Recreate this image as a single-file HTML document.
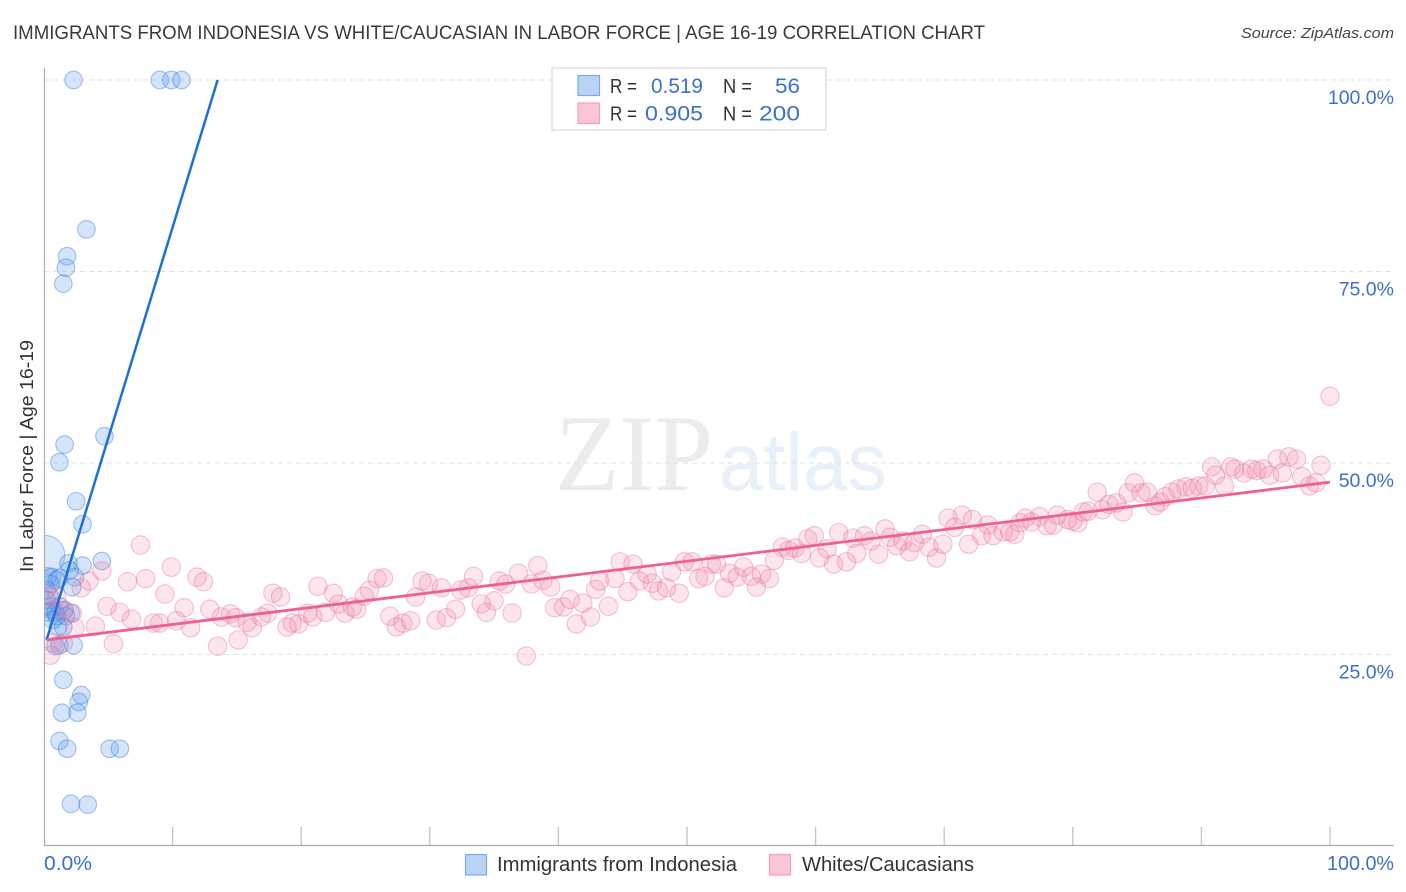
<!DOCTYPE html>
<html lang="en">
<head>
<meta charset="utf-8">
<title>Immigrants from Indonesia vs White/Caucasian in Labor Force | Age 16-19 Correlation Chart</title>
<style>
html,body{margin:0;padding:0;background:#fff;width:1406px;height:892px;overflow:hidden}
svg{display:block;font-family:"Liberation Sans",sans-serif}
</style>
</head>
<body>
<svg id="chart" width="1406" height="892" viewBox="0 0 1406 892" xmlns="http://www.w3.org/2000/svg">
  <defs>
    <clipPath id="plot-clip"><rect x="44" y="60" width="1350" height="786"/></clipPath>
  </defs>
  <text x="13" y="39" font-size="19" fill="#3a3a3a" textLength="972" lengthAdjust="spacingAndGlyphs">IMMIGRANTS FROM INDONESIA VS WHITE/CAUCASIAN IN LABOR FORCE | AGE 16-19 CORRELATION CHART</text>
  <text x="1241" y="38" font-size="15" font-style="italic" fill="#444" textLength="153" lengthAdjust="spacingAndGlyphs">Source: ZipAtlas.com</text>

  <g>
    <text x="555" y="490" font-family="'Liberation Serif',serif" font-size="109" fill="#ececec" textLength="158" lengthAdjust="spacingAndGlyphs">ZIP</text>
    <text x="719" y="490" font-size="82" fill="#e8f0fa" textLength="168" lengthAdjust="spacingAndGlyphs">atlas</text>
  </g>

  <g id="grid"></g>
  <g id="x-ticks"></g>
  <g id="blue-points" clip-path="url(#plot-clip)"></g>
  <g id="pink-points" clip-path="url(#plot-clip)"></g>
  <g id="trends" clip-path="url(#plot-clip)"></g>

  <line x1="44.5" y1="68" x2="44.5" y2="846" stroke="#adadad" stroke-width="1.2"/>
  <line x1="44" y1="845.5" x2="1394" y2="845.5" stroke="#adadad" stroke-width="1.2"/>
  <g id="y-labels"></g>
  <text x="44" y="870" font-size="20" fill="#3b6fd0" textLength="48" lengthAdjust="spacingAndGlyphs">0.0%</text>
  <text x="1327" y="870" font-size="20" fill="#3b6fd0" textLength="67" lengthAdjust="spacingAndGlyphs">100.0%</text>
  <text transform="translate(33,572) rotate(-90)" font-size="18.5" fill="#333" textLength="232" lengthAdjust="spacingAndGlyphs">In Labor Force | Age 16-19</text>

  <g>
    <rect x="552" y="68" width="274" height="62" fill="#fff" stroke="#d8d8d8" stroke-width="1.2"/>
    <rect x="578" y="75.500" width="21.500" height="20" fill="#b9d3f5" stroke="#7faae6" stroke-width="1.2"/>
    <rect x="578" y="103" width="21.500" height="20.500" fill="#f9c6d7" stroke="#f0a0bd" stroke-width="1.2"/>
    <text x="610" y="93" font-size="20" fill="#333" textLength="27" lengthAdjust="spacingAndGlyphs">R =</text>
    <text x="651" y="93" font-size="21" fill="#3b6fd0" textLength="52" lengthAdjust="spacingAndGlyphs">0.519</text>
    <text x="723" y="93" font-size="20" fill="#333" textLength="29" lengthAdjust="spacingAndGlyphs">N =</text>
    <text x="775" y="93" font-size="21" fill="#3b6fd0" textLength="25" lengthAdjust="spacingAndGlyphs">56</text>
    <text x="610" y="120.500" font-size="20" fill="#333" textLength="27" lengthAdjust="spacingAndGlyphs">R =</text>
    <text x="645" y="120.500" font-size="21" fill="#3b6fd0" textLength="58" lengthAdjust="spacingAndGlyphs">0.905</text>
    <text x="723" y="120.500" font-size="20" fill="#333" textLength="29" lengthAdjust="spacingAndGlyphs">N =</text>
    <text x="759" y="120.500" font-size="21" fill="#3b6fd0" textLength="41" lengthAdjust="spacingAndGlyphs">200</text>
  </g>

  <g>
    <rect x="465.500" y="854.500" width="21" height="20.500" fill="#b9d3f5" stroke="#7faae6" stroke-width="1.2"/>
    <text x="497" y="871" font-size="20" fill="#333" textLength="240" lengthAdjust="spacingAndGlyphs">Immigrants from Indonesia</text>
    <rect x="769.500" y="854.500" width="21" height="20.500" fill="#f9c6d7" stroke="#f0a0bd" stroke-width="1.2"/>
    <text x="802" y="871" font-size="20" fill="#333" textLength="172" lengthAdjust="spacingAndGlyphs">Whites/Caucasians</text>
  </g>
</svg>
<script>
const yGridValues = [25, 50, 75, 100];
const yTickLabels = ["25.0%", "50.0%", "75.0%", "100.0%"];
const xTickValues = [10, 20, 30, 40, 50, 60, 70, 80, 90, 100];

const blueX = [2.3,9.0,9.9,10.7,3.3,1.8,1.7,1.5,4.7,1.6,1.2,2.5,3.0,4.5,3.0,1.9,2.0,0.6,0.3,1.0,1.2,2.4,2.2,0.2,0.5,0.2,0.5,0.3,0.6,0.9,1.2,1.6,2.1,1.7,0.7,1.1,1.5,0.9,1.2,2.3,1.5,2.9,2.7,1.4,2.6,1.2,1.8,5.1,5.9,2.1,3.4,0.4,1.0];
const blueY = [100,100,100,100,80.5,77.0,75.5,73.4,53.5,52.4,50.1,45.0,42.0,37.2,36.6,36.9,36.0,35.1,35.2,34.7,35.0,35.1,33.8,33.4,34.2,32.1,31.3,30.5,30.8,30.5,31.3,30.8,30.4,30.0,29.5,28.6,28.6,26.1,26.2,26.2,21.7,19.7,18.8,17.4,17.4,13.7,12.7,12.7,12.7,5.5,5.4,32.7,30.0];
const blueLargeX = [0.1];
const blueLargeY = [38.0];

const pinkX = [0.5,0.7,1.5,0.5,1.0,1.5,2.2,2.4,2.9,3.5,4.0,4.5,4.9,5.4,5.9,6.5,6.8,7.5,7.9,8.5,9.0,9.4,9.9,10.3,10.9,11.4,11.9,12.4,12.9,13.5,13.8,14.5,14.9,15.1,15.8,16.2,16.9,17.4,17.8,18.4,18.9,19.3,19.8,20.5,20.9,21.3,21.9,22.5,22.9,23.4,24.0,24.3,24.9,25.3,25.9,26.4,26.9,27.4,27.9,28.5,28.9,29.4,29.9,30.9,30.5,31.3,32.0,32.4,33.0,33.4,34.0,34.4,35.0,35.4,35.9,36.4,36.9,37.5,37.9,38.4,38.8,39.4,39.7,40.4,40.9,41.4,41.9,42.5,42.9,43.2,43.9,44.4,44.8,45.4,45.8,46.3,46.9,47.3,47.8,48.4,48.8,49.4,49.8,50.4,50.9,51.4,51.9,52.3,52.9,53.3,53.9,54.4,55.0,55.4,55.8,56.4,56.8,57.4,57.9,58.4,58.9,59.4,59.9,60.3,60.9,61.4,61.8,62.4,62.9,63.2,63.8,64.3,64.9,65.4,65.8,66.3,66.8,67.3,67.7,68.3,68.8,69.4,69.9,70.3,70.8,71.4,71.9,72.2,72.9,73.4,73.8,74.6,75.1,75.5,75.9,76.3,76.8,77.4,78.0,78.5,78.8,79.6,80.0,80.4,80.8,81.2,81.9,82.3,82.8,83.4,83.9,84.3,84.8,85.3,85.8,86.4,86.8,87.2,87.7,88.2,88.8,89.3,89.8,90.3,90.8,91.1,91.8,92.3,92.6,93.3,93.9,94.3,94.8,95.3,95.9,96.3,96.8,97.4,97.8,98.4,98.9,99.3,100];
const pinkY = [24.9,26.5,26.5,32.5,32.5,30.7,30.4,28.5,33.7,34.6,28.7,35.9,31.3,26.4,30.5,34.5,29.6,39.3,34.9,29.1,29.1,32.9,36.4,29.4,31.1,28.5,35.1,34.5,30.9,26.1,29.9,30.3,29.8,26.9,29.2,28.5,29.9,30.4,33.0,32.5,28.6,29.1,29.0,30.4,29.9,33.9,30.5,33.0,31.6,30.4,31.2,30.9,32.6,33.4,34.9,35.0,30.0,28.6,29.1,29.4,32.5,34.6,34.3,33.7,29.5,29.8,30.9,33.4,33.7,35.2,31.6,30.5,32.0,34.6,34.2,30.4,35.6,24.8,34.2,36.6,34.7,33.8,31.1,31.2,32.2,29.0,31.7,29.9,33.5,34.6,31.3,34.9,37.1,33.2,36.8,34.6,35.5,34.3,33.3,33.7,35.8,33.0,37.1,37.1,34.9,35.2,36.8,36.8,33.7,35.6,35.1,36.4,35.2,33.8,35.5,34.9,37.3,39.0,38.6,38.9,38.2,40.1,40.5,37.6,38.8,36.8,40.9,37.1,40.2,38.2,40.5,39.8,38.1,41.4,40.3,39.2,39.8,38.4,39.6,40.7,39.0,37.6,39.4,42.8,41.6,43.2,39.4,42.6,40.5,41.9,40.5,41.0,41.0,40.7,42.2,42.8,42.3,43.0,41.8,41.9,43.2,42.6,42.4,42.2,43.6,43.7,46.2,43.9,44.6,44.8,43.6,46.1,47.4,46.1,46.2,44.4,44.9,45.6,46.2,46.6,46.9,46.7,47.0,47.0,49.5,48.4,47.0,49.5,49.2,48.7,49.2,49.0,49.2,48.4,50.5,48.7,50.8,50.5,48.2,47.0,47.4,49.7,58.7];

const blueTrendX = [0.2, 13.5];
const blueTrendY = [26.9, 100];
const pinkTrendX = [0.2, 100];
const pinkTrendY = [26.9, 47.5];

const NS = "http://www.w3.org/2000/svg";
function xScale(v) { return 44 + 12.86 * v; }
function yScale(v) { return 846 - 7.66 * v; }
function mk(tag, parent, props) {
  const el = document.createElementNS(NS, tag);
  for (const k in props) el.setAttribute(k, props[k]);
  parent.appendChild(el);
  return el;
}

const grid = document.getElementById("grid");
const yLabels = document.getElementById("y-labels");
yGridValues.forEach(function (v, i) {
  const g = mk("line", grid, {x1: 44, x2: 1394, y1: yScale(v), y2: yScale(v), stroke: "#e2e2e2", "stroke-width": 1, "stroke-dasharray": "5 4"});
  
  
  const t = mk("text", yLabels, {x: 1394, y: yScale(v) + 24, "text-anchor": "end", "font-size": 19.5, fill: "#3b6fd0"});
  t.textContent = yTickLabels[i];
  
  
});

const xTicks = document.getElementById("x-ticks");
xTickValues.forEach(function (v) {
  const l = mk("line", xTicks, {x1: xScale(v), x2: xScale(v), y1: 827, y2: 846, stroke: "#c4c4c4", "stroke-width": 1.3});
  
  
});

const blueGroup = document.getElementById("blue-points");
const bigBlue = mk("circle", blueGroup, {cx: xScale(blueLargeX[0]), cy: yScale(blueLargeY[0]), r: 19.5, fill: "rgba(90,155,235,0.24)", stroke: "rgba(60,125,220,0.42)", "stroke-width": 1.1});


blueX.forEach(function (x, i) {
  const c = mk("circle", blueGroup, {cx: xScale(x), cy: yScale(blueY[i]), r: 8.8, fill: "rgba(90,155,235,0.26)", stroke: "rgba(60,125,220,0.45)", "stroke-width": 1.1});
  
  
});

const pinkGroup = document.getElementById("pink-points");
pinkX.forEach(function (x, i) {
  const c = mk("circle", pinkGroup, {cx: xScale(x), cy: yScale(pinkY[i]), r: 9.2, fill: "rgba(242,130,172,0.21)", stroke: "rgba(232,115,155,0.42)", "stroke-width": 1.1});
  
  
});

const trends = document.getElementById("trends");
const blueLine = mk("line", trends, {x1: xScale(blueTrendX[0]), y1: yScale(blueTrendY[0]), x2: xScale(blueTrendX[1]), y2: yScale(blueTrendY[1]), stroke: "#1f6fdb", "stroke-width": 2.5});


const pinkLine = mk("line", trends, {x1: xScale(pinkTrendX[0]), y1: yScale(pinkTrendY[0]), x2: xScale(pinkTrendX[1]), y2: yScale(pinkTrendY[1]), stroke: "#f0608f", "stroke-width": 2.8});


</script>
</body>
</html>
